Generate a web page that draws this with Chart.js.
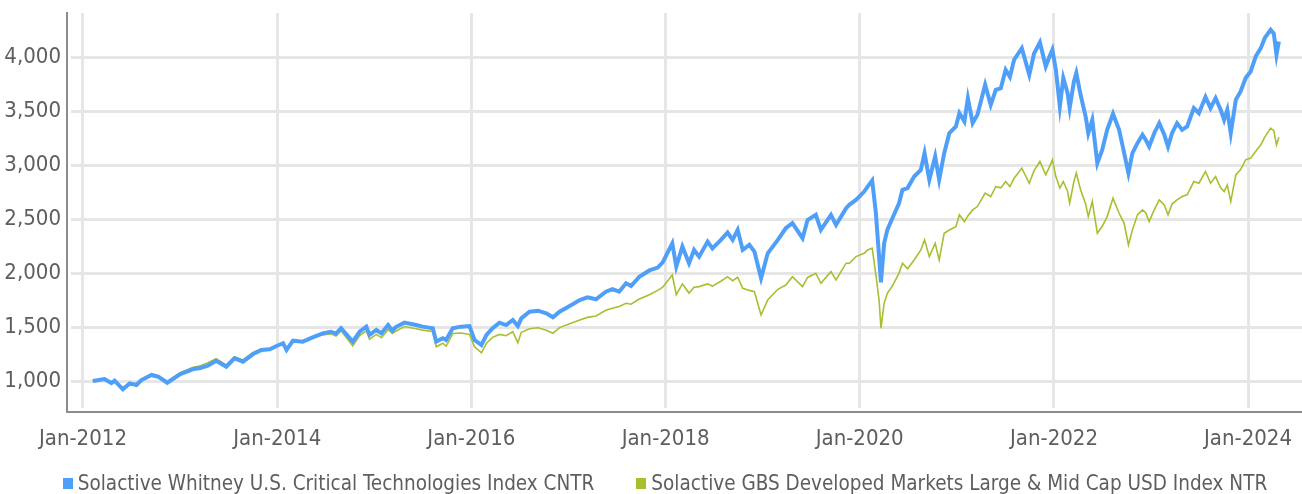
<!DOCTYPE html>
<html>
<head>
<meta charset="utf-8">
<script src="https://cdn.jsdelivr.net/npm/chart.js@4.4.1/dist/chart.umd.min.js"></script>
<style>
html,body{margin:0;padding:0;background:#fff;}
#wrap{position:relative;width:1302px;height:494px;overflow:hidden;}
#legend{position:absolute;left:0;top:470px;width:1302px;display:flex;justify-content:center;padding-left:28px;box-sizing:border-box;
  font-family:'DejaVu Sans Condensed','DejaVu Sans',sans-serif;font-stretch:condensed;font-size:20.5px;color:#5e5e5e;white-space:nowrap;line-height:26px;}
.item{display:flex;align-items:center;margin:0 21px;}
.sw{width:10px;height:11px;margin-right:5px;flex:none;}
</style>
</head>
<body>
<div id="wrap">
<canvas id="c" width="1302" height="494"></canvas>
<div id="legend"></div>
</div>
<script>
const seriesNames = [
  "Solactive Whitney U.S. Critical Technologies Index CNTR",
  "Solactive GBS Developed Markets Large & Mid Cap USD Index NTR"
];
const seriesColors = ["#4f9ff9", "#a8bf30"];

const dates = [
"2012-02-07","2012-03-22","2012-04-17","2012-04-29","2012-05-30","2012-06-25","2012-07-20","2012-08-08","2012-09-15","2012-10-10","2012-11-13",
"2013-01-01","2013-02-19","2013-03-14","2013-04-15","2013-05-16","2013-06-23","2013-07-24","2013-08-25","2013-10-02","2013-11-03","2013-12-04","2013-12-29",
"2014-01-23","2014-02-05","2014-03-01","2014-04-07","2014-05-14","2014-06-21","2014-07-22","2014-08-10","2014-08-29","2014-10-12","2014-11-07","2014-12-02","2014-12-14",
"2015-01-09","2015-01-28","2015-02-22","2015-03-10","2015-03-23","2015-04-24","2015-06-07","2015-07-02","2015-08-09","2015-08-22","2015-09-16","2015-09-28","2015-10-23","2015-11-24","2015-12-25",
"2016-01-13","2016-02-08","2016-02-27","2016-03-21","2016-04-16","2016-05-11","2016-06-05","2016-06-24","2016-07-07","2016-08-07","2016-09-08","2016-10-09","2016-11-03","2016-11-28",
"2017-01-05","2017-02-12","2017-03-13","2017-04-14","2017-05-21","2017-06-15","2017-07-10","2017-08-05","2017-08-24","2017-09-24","2017-11-01","2017-12-02","2017-12-21",
"2018-01-26","2018-02-10","2018-03-05","2018-03-30","2018-04-18","2018-05-07","2018-06-08","2018-06-26","2018-07-28","2018-08-22","2018-09-10","2018-09-29","2018-10-18","2018-11-12","2018-12-01","2018-12-26",
"2019-01-20","2019-02-27","2019-03-29","2019-04-23","2019-05-31","2019-06-19","2019-07-20","2019-08-08","2019-09-15","2019-10-04","2019-11-11","2019-11-23","2019-12-18",
"2020-01-18","2020-01-31","2020-02-17","2020-03-02","2020-03-14","2020-03-21","2020-04-02","2020-04-14","2020-05-03","2020-05-28","2020-06-10","2020-06-29","2020-07-24","2020-08-18","2020-09-01","2020-09-19","2020-10-11","2020-10-26","2020-11-14","2020-12-03","2020-12-28",
"2021-01-10","2021-01-29","2021-02-11","2021-03-01","2021-03-19","2021-04-17","2021-05-08","2021-05-27","2021-06-15","2021-07-03","2021-07-19","2021-08-04","2021-09-02","2021-09-30","2021-10-18","2021-11-09","2021-12-01","2021-12-14","2021-12-26",
"2022-01-08","2022-01-23","2022-02-05","2022-02-21","2022-03-01","2022-03-17","2022-03-26","2022-04-11","2022-04-30","2022-05-10","2022-05-25","2022-06-13","2022-07-01","2022-07-20","2022-08-11","2022-09-03","2022-09-22","2022-10-08","2022-10-23","2022-11-11","2022-11-30","2022-12-12","2022-12-25",
"2023-01-13","2023-02-01","2023-02-20","2023-03-06","2023-03-21","2023-04-09","2023-04-28","2023-05-17","2023-06-11","2023-06-30","2023-07-25","2023-08-13","2023-09-01","2023-09-20","2023-10-03","2023-10-15","2023-10-28","2023-11-16","2023-12-04","2023-12-23",
"2024-01-11","2024-01-30","2024-02-18","2024-03-04","2024-03-26","2024-04-07","2024-04-17","2024-04-26"
];

const cntr = [
1000,1019,981,1003,923,978,963,1009,1056,1040,984,
1065,1111,1118,1142,1188,1133,1210,1179,1250,1288,1294,1325,
1350,1288,1374,1365,1405,1442,1457,1440,1489,1365,1457,1504,1427,
1473,1442,1519,1467,1500,1541,1519,1504,1489,1365,1396,1380,1489,1504,1510,
1380,1334,1427,1489,1541,1519,1566,1510,1581,1643,1652,1628,1591,1643,
1696,1751,1776,1758,1828,1851,1828,1906,1880,1967,2025,2051,2100,
2277,2060,2246,2092,2215,2153,2292,2230,2308,2376,2308,2401,2215,2262,2200,1953,
2184,2308,2416,2463,2324,2493,2540,2401,2540,2447,2602,2633,2679,
2756,2802,2858,2556,2153,1915,2277,2401,2509,2648,2772,2788,2895,2957,3112,2865,3081,2865,3112,3297,3359,
3483,3405,3622,3390,3467,3746,3560,3699,3715,3885,3819,3978,4085,3838,4036,4138,3915,4000,4070,
3885,3545,3808,3670,3530,3777,3854,3653,3452,3297,3420,3019,3140,3328,3477,3328,3112,2927,3112,3205,3282,3236,3173,
3297,3390,3282,3173,3297,3390,3328,3359,3530,3483,3632,3530,3622,3514,3421,3514,3297,3606,3684,3808,
3869,4010,4085,4180,4256,4220,4024,4147
];

const gbsDm = [
1000,1024,988,1008,932,986,974,1018,1064,1050,996,
1078,1128,1138,1170,1208,1150,1226,1196,1264,1298,1300,1330,
1350,1290,1372,1360,1398,1428,1438,1418,1466,1325,1422,1466,1388,
1432,1402,1478,1440,1462,1505,1485,1472,1460,1318,1350,1322,1440,1445,1432,
1318,1262,1350,1405,1432,1420,1457,1355,1452,1485,1494,1470,1442,1495,
1530,1566,1590,1603,1655,1674,1690,1721,1712,1760,1800,1840,1870,
1983,1800,1900,1815,1870,1875,1900,1880,1925,1967,1930,1962,1860,1840,1828,1612,
1751,1850,1890,1967,1875,1960,1999,1906,2014,1937,2092,2092,2153,
2184,2215,2231,1983,1750,1489,1721,1813,1880,2000,2092,2040,2122,2215,2308,2153,2277,2122,2370,2400,2431,
2540,2478,2530,2586,2617,2741,2710,2802,2790,2849,2802,2880,2973,2833,2950,3035,2911,2980,3050,
2895,2788,2849,2760,2648,2850,2927,2772,2640,2524,2664,2370,2432,2524,2695,2555,2462,2262,2400,2540,2586,2560,2478,
2586,2679,2633,2540,2640,2679,2710,2726,2849,2833,2942,2833,2895,2790,2756,2818,2663,2911,2960,3050,
3066,3130,3189,3260,3344,3320,3189,3260
];

const yTickValues = [1000,1500,2000,2500,3000,3500,4000];
const xTickYears = [2012,2014,2016,2018,2020,2022,2024];
const xMinDate = "2011-11-17";
const xMaxDate = "2024-07-22";
const yMin = 750, yMax = 4411;

const FONT = "'DejaVu Sans Condensed','DejaVu Sans',sans-serif";
const TEXT = "#5e5e5e";

function ts(d){ return Date.parse(d + "T00:00:00Z"); }
function pts(vals){ return dates.map((d,i)=>({x: ts(d), y: vals[i]})); }

const axisLines = {
  id: 'axisLines',
  afterDraw(chart){
    const {ctx, chartArea} = chart;
    ctx.save();
    ctx.strokeStyle = '#8c8c8c';
    ctx.lineWidth = 2;
    ctx.beginPath();
    ctx.moveTo(chartArea.left - 4, chartArea.top - 1);
    ctx.lineTo(chartArea.left - 4, chartArea.bottom + 5);
    ctx.moveTo(chartArea.left - 3, chartArea.bottom + 4);
    ctx.lineTo(chartArea.right, chartArea.bottom + 4);
    ctx.stroke();
    ctx.restore();
  }
};

new Chart(document.getElementById('c'), {
  type: 'line',
  data: {
    datasets: [
      { label: seriesNames[0], data: pts(cntr), borderColor: seriesColors[0], backgroundColor: seriesColors[0], borderWidth: 4, pointRadius: 0, tension: 0, order: 0 },
      { label: seriesNames[1], data: pts(gbsDm), borderColor: seriesColors[1], backgroundColor: seriesColors[1], borderWidth: 1.6, pointRadius: 0, tension: 0, order: 1 }
    ]
  },
  options: {
    responsive: false,
    animation: false,
    layout: { padding: { top: 13, right: 0, bottom: 36, left: 0 } },
    plugins: { legend: { display: false }, tooltip: { enabled: false } },
    scales: {
      x: {
        type: 'linear',
        min: ts(xMinDate), max: ts(xMaxDate),
        afterBuildTicks(scale){ scale.ticks = xTickYears.map(y => ({ value: Date.UTC(y,0,1) })); },
        afterFit(scale){ scale.height = 50; scale.paddingLeft = 0; scale.paddingRight = 0; },
        ticks: {
          autoSkip: false, maxRotation: 0, padding: 18,
          color: TEXT, font: { family: FONT, size: 22 },
          callback(v){ return 'Jan-' + new Date(v).getUTCFullYear(); }
        },
        grid: { color: '#e6e6e6', lineWidth: 3, drawTicks: false },
        border: { display: false }
      },
      y: {
        min: yMin, max: yMax,
        afterBuildTicks(scale){ scale.ticks = yTickValues.map(v => ({ value: v })); },
        afterFit(scale){ scale.width = 71; scale.paddingTop = 0; scale.paddingBottom = 0; },
        ticks: {
          padding: 10, color: TEXT, font: { family: FONT, size: 22 },
          callback(v){ return v.toLocaleString('en-US'); }
        },
        grid: { color: '#e6e6e6', lineWidth: 3, drawTicks: false },
        border: { display: false }
      }
    }
  },
  plugins: [axisLines]
});

const lg = document.getElementById('legend');
seriesNames.forEach((n,i)=>{
  const it = document.createElement('div'); it.className = 'item';
  const sw = document.createElement('span'); sw.className = 'sw'; sw.style.background = seriesColors[i];
  const tx = document.createElement('span'); tx.textContent = n;
  it.appendChild(sw); it.appendChild(tx); lg.appendChild(it);
});
</script>
</body>
</html>
